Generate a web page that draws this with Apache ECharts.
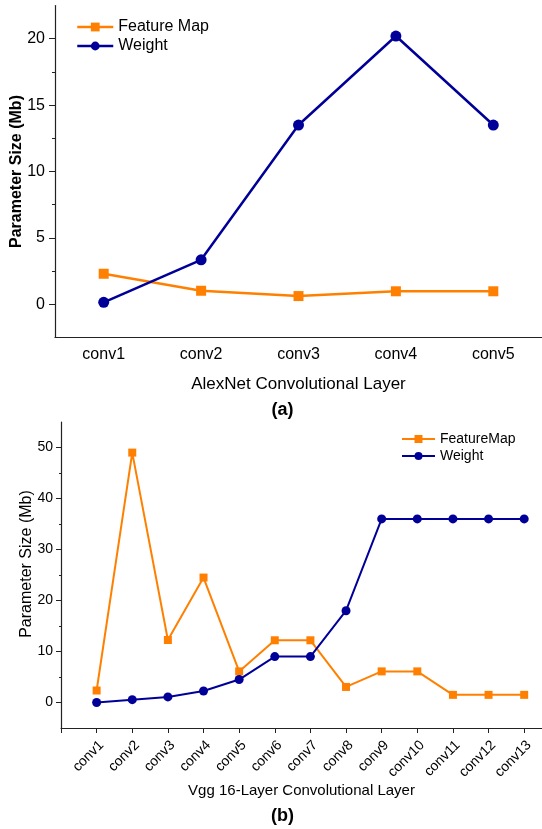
<!DOCTYPE html>
<html>
<head>
<meta charset="utf-8">
<script src="https://cdn.jsdelivr.net/npm/echarts@6/dist/echarts.min.js"></script>
<style>html,body{margin:0;padding:0;background:#fff}#c{width:542px;height:829px}</style>
</head>
<body>
<div id="c"></div>
<script>
const alexCategories = ['conv1', 'conv2', 'conv3', 'conv4', 'conv5'];
const alexFeatureMap = [2.3, 1.02, 0.62, 0.98, 0.98];
const alexWeight = [0.15, 3.35, 13.5, 20.2, 13.5];
const alexYTicks = [0, 5, 10, 15, 20];
const alexYMinor = [2.5, 7.5, 12.5, 17.5];

const vggCategories = ['conv1', 'conv2', 'conv3', 'conv4', 'conv5', 'conv6', 'conv7', 'conv8', 'conv9', 'conv10', 'conv11', 'conv12', 'conv13'];
const vggFeatureMap = [2.35, 49.0, 12.25, 24.5, 6.1, 12.2, 12.2, 3.05, 6.1, 6.1, 1.5, 1.5, 1.5];
const vggWeight = [0, 0.56, 1.1, 2.25, 4.5, 9.0, 9.0, 18.0, 36.0, 36.0, 36.0, 36.0, 36.0];
const vggYTicks = [0, 10, 20, 30, 40, 50];
const vggYMinor = [5, 15, 25, 35, 45];

const ORANGE = '#FF8000';
const BLUE = '#000099';
const AXIS = '#222';
const FONT = "'Liberation Sans', Arial, sans-serif";

const chart = echarts.init(document.getElementById('c'), null, {renderer: 'canvas'});

const vggPositions = vggCategories.map((c, i) => i + 1);
const vggXTicks = [0].concat(vggPositions);
const vggFM = vggFeatureMap.map((v, i) => [vggPositions[i], v]);
const vggW = vggWeight.map((v, i) => [vggPositions[i], v]);

const option = {
  animation: false,
  textStyle: {fontFamily: FONT, color: '#000'},
  grid: [
    {left: 55, top: 5.5, width: 491, height: 332},
    {left: 61, top: 422, width: 482, height: 306}
  ],
  legend: [
    {
      data: ['Feature Map', 'Weight'], orient: 'vertical', left: 76, top: 19, padding: 0,
      itemWidth: 36, itemHeight: 11, itemGap: 3, selectedMode: false,
      lineStyle: {width: 2.5},
      textStyle: {fontFamily: FONT, fontSize: 16, color: '#000'}
    },
    {
      data: ['FeatureMap', 'Weight'], orient: 'vertical', left: 401, top: 432, padding: 0,
      itemWidth: 33, itemHeight: 10, itemGap: 3, selectedMode: false,
      lineStyle: {width: 2},
      textStyle: {fontFamily: FONT, fontSize: 14, color: '#000'}
    }
  ],
  xAxis: [
    {
      type: 'category', gridIndex: 0, data: alexCategories, boundaryGap: true,
      axisLine: {onZero: false, lineStyle: {color: AXIS, width: 1.2}},
      axisTick: {alignWithLabel: true, length: 6, lineStyle: {color: AXIS}},
      axisLabel: {fontSize: 16, color: '#000', margin: 9, fontFamily: FONT},
      splitLine: {show: false},
      name: 'AlexNet Convolutional Layer', nameLocation: 'middle', nameGap: 38,
      nameTextStyle: {fontSize: 17, color: '#000', fontFamily: FONT}
    },
    {
      type: 'value', gridIndex: 1, min: 0, max: 13.5,
      axisLine: {onZero: false, lineStyle: {color: AXIS, width: 1.2}},
      axisTick: {length: 5, customValues: vggXTicks, lineStyle: {color: AXIS}},
      axisLabel: {
        fontSize: 14, color: '#000', margin: 10, rotate: 45, fontFamily: FONT,
        verticalAlign: 'top',
        customValues: vggPositions,
        formatter: v => vggCategories[Math.round(v) - 1] || ''
      },
      splitLine: {show: false},
      name: 'Vgg 16-Layer Convolutional Layer', nameLocation: 'middle', nameGap: 55,
      nameTextStyle: {fontSize: 15, color: '#000', fontFamily: FONT}
    }
  ],
  yAxis: [
    {
      type: 'value', gridIndex: 0, min: -2.5, max: 22.5,
      axisLine: {show: true, onZero: false, lineStyle: {color: AXIS, width: 1.2}},
      axisTick: {show: true, length: 6, customValues: alexYTicks, lineStyle: {color: AXIS}},
      axisLabel: {fontSize: 16, color: '#000', margin: 10, customValues: alexYTicks, fontFamily: FONT},
      splitLine: {show: false}
    },
    {
      type: 'value', gridIndex: 0, min: -2.5, max: 22.5, position: 'left',
      axisLine: {show: false, onZero: false},
      axisTick: {show: true, length: 3, customValues: alexYMinor, lineStyle: {color: AXIS}},
      axisLabel: {show: false},
      splitLine: {show: false}
    },
    {
      type: 'value', gridIndex: 1, min: -5, max: 55,
      axisLine: {show: true, onZero: false, lineStyle: {color: AXIS, width: 1.2}},
      axisTick: {show: true, length: 5, customValues: vggYTicks, lineStyle: {color: AXIS}},
      axisLabel: {fontSize: 14, color: '#000', margin: 8, customValues: vggYTicks, fontFamily: FONT},
      splitLine: {show: false}
    },
    {
      type: 'value', gridIndex: 1, min: -5, max: 55, position: 'left',
      axisLine: {show: false, onZero: false},
      axisTick: {show: true, length: 2, customValues: vggYMinor, lineStyle: {color: AXIS}},
      axisLabel: {show: false},
      splitLine: {show: false}
    }
  ],
  series: [
    {
      name: 'Feature Map', type: 'line', xAxisIndex: 0, yAxisIndex: 0, data: alexFeatureMap,
      symbol: 'rect', symbolSize: 10, showAllSymbol: true,
      lineStyle: {color: ORANGE, width: 2.5}, itemStyle: {color: ORANGE}
    },
    {
      name: 'Weight', type: 'line', xAxisIndex: 0, yAxisIndex: 0, data: alexWeight,
      symbol: 'circle', symbolSize: 11, showAllSymbol: true,
      lineStyle: {color: BLUE, width: 2.5}, itemStyle: {color: BLUE}
    },
    {
      name: 'FeatureMap', type: 'line', xAxisIndex: 1, yAxisIndex: 2, data: vggFM,
      symbol: 'rect', symbolSize: 8, showAllSymbol: true,
      lineStyle: {color: ORANGE, width: 2}, itemStyle: {color: ORANGE}
    },
    {
      name: 'Weight', type: 'line', xAxisIndex: 1, yAxisIndex: 2, data: vggW,
      symbol: 'circle', symbolSize: 9, showAllSymbol: true,
      lineStyle: {color: BLUE, width: 2}, itemStyle: {color: BLUE}
    }
  ],
  graphic: [
    {
      type: 'text', x: 17, y: 171.5, rotation: Math.PI / 2,
      style: {text: 'Parameter Size (Mb)', fontSize: 16, fontWeight: 'bold', fontFamily: FONT, fill: '#000', align: 'center', verticalAlign: 'middle'}
    },
    {
      type: 'text', x: 27, y: 564, rotation: Math.PI / 2,
      style: {text: 'Parameter Size (Mb)', fontSize: 16, fontFamily: FONT, fill: '#000', align: 'center', verticalAlign: 'middle'}
    },
    {
      type: 'text', x: 282.5, y: 410,
      style: {text: '(a)', fontSize: 18, fontWeight: 'bold', fontFamily: FONT, fill: '#000', align: 'center', verticalAlign: 'middle'}
    },
    {
      type: 'text', x: 282.5, y: 816.5,
      style: {text: '(b)', fontSize: 18, fontWeight: 'bold', fontFamily: FONT, fill: '#000', align: 'center', verticalAlign: 'middle'}
    }
  ]
};
chart.setOption(option);
</script>
</body>
</html>
